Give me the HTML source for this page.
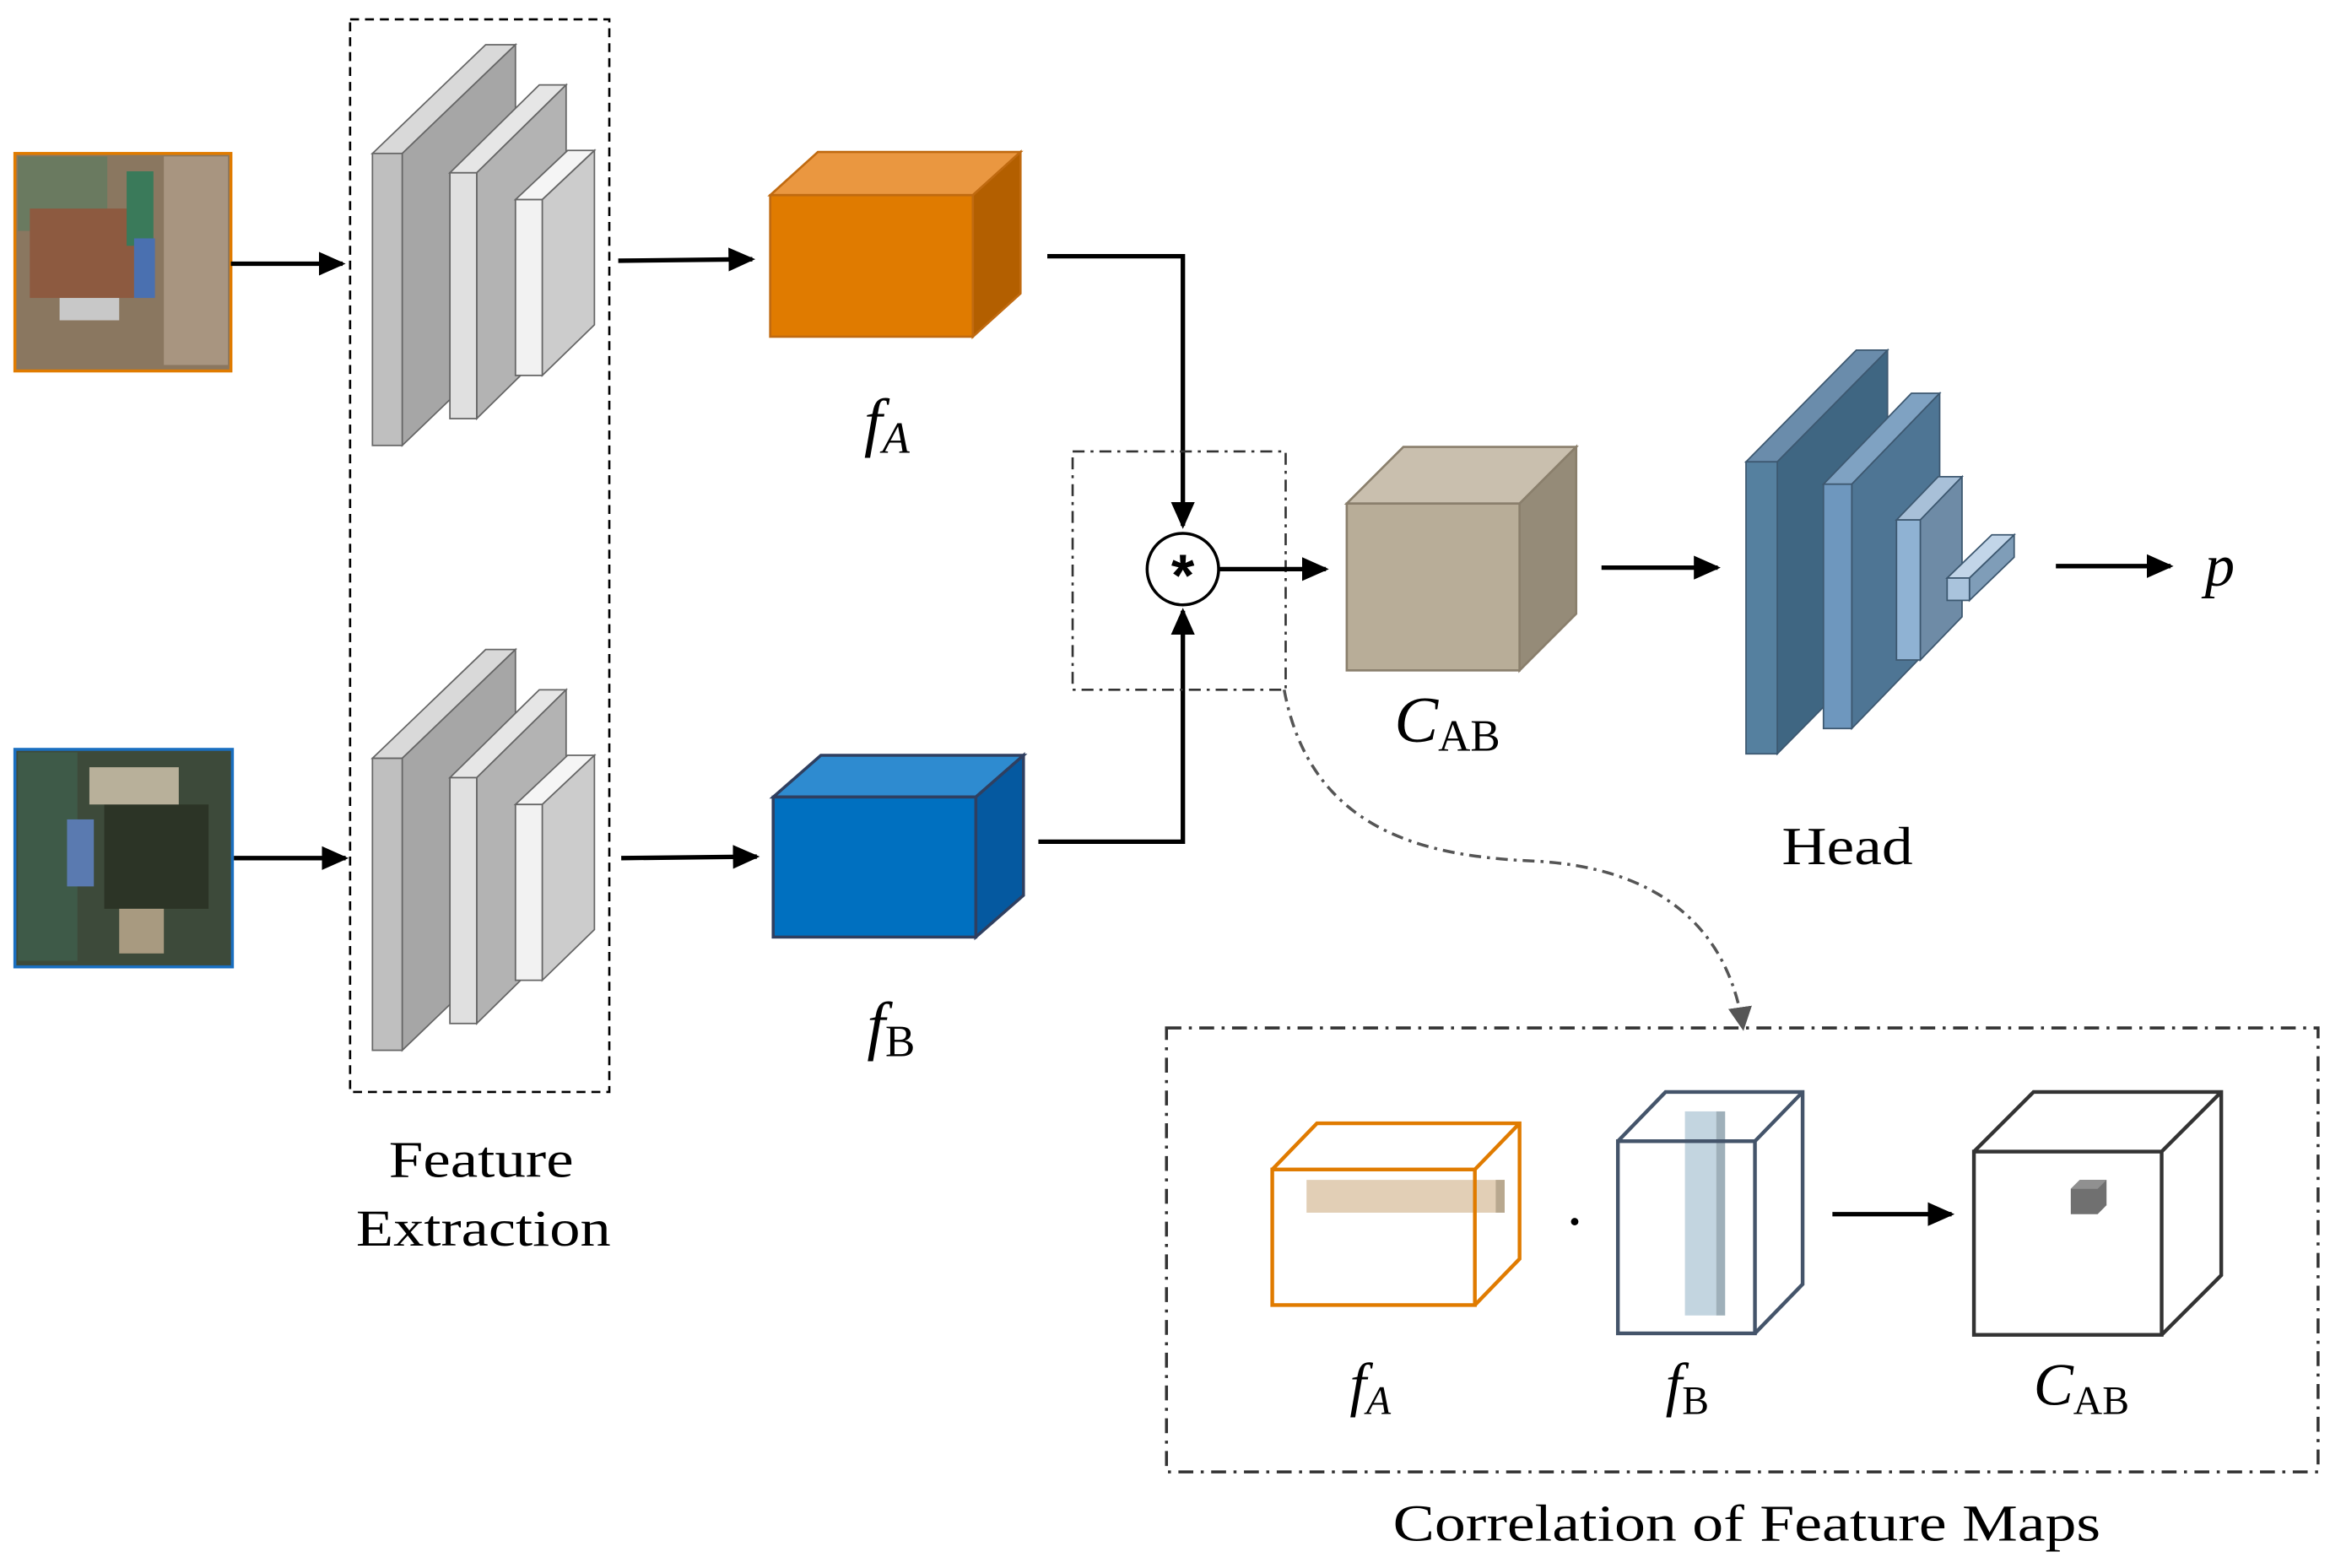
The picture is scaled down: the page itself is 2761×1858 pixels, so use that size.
<!DOCTYPE html>
<html><head><meta charset="utf-8"><style>html,body{margin:0;padding:0;background:#fff}svg{display:block}</style></head>
<body>
<svg width="2761" height="1858" viewBox="0 0 1564 1052.5" preserveAspectRatio="none" xmlns="http://www.w3.org/2000/svg" font-family="Liberation Serif, serif">
<defs>
<marker id="ah2" markerWidth="20" markerHeight="20" refX="16" refY="8" orient="auto" markerUnits="userSpaceOnUse"><path d="M0,0 L18,8 L0,16 z" fill="#000"/></marker>
<marker id="ah3" markerWidth="20" markerHeight="20" refX="14" refY="8" orient="auto" markerUnits="userSpaceOnUse"><path d="M0,0 L16,8 L0,16 z" fill="#555"/></marker>
</defs>
<rect x="10" y="103" width="145" height="146" fill="#8a7760" stroke="#E07B00" stroke-width="2"/>
<rect x="12" y="105" width="60" height="50" fill="#6a7a60"/>
<rect x="20" y="140" width="70" height="60" fill="#8d5a40"/>
<rect x="85" y="115" width="18" height="50" fill="#3a7a5a"/>
<rect x="90" y="160" width="14" height="40" fill="#4a70b0"/>
<rect x="40" y="200" width="40" height="15" fill="#c8c8c8"/>
<rect x="110" y="105" width="43" height="140" fill="#a89580"/>
<rect x="10" y="503" width="146" height="146" fill="#3d4a3a" stroke="#1a6fc0" stroke-width="2"/>
<rect x="70" y="540" width="70" height="70" fill="#2c3426"/>
<rect x="12" y="505" width="40" height="140" fill="#3e5a48"/>
<rect x="45" y="550" width="18" height="45" fill="#5a7ab0"/>
<rect x="60" y="515" width="60" height="25" fill="#b8b09a"/>
<rect x="80" y="610" width="30" height="30" fill="#a89a80"/>
<line x1="155" y1="177" x2="230" y2="177" stroke="#000" stroke-width="3" marker-end="url(#ah2)"/>
<line x1="157" y1="576" x2="232" y2="576" stroke="#000" stroke-width="3" marker-end="url(#ah2)"/>
<rect x="235" y="13" width="174" height="720" fill="none" stroke="#000" stroke-width="1.5" stroke-dasharray="6,4"/>
<g id="stk" stroke="#666" stroke-width="1">
<path d="M250,103 L326,30 L346,30 L270,103 z" fill="#d9d9d9"/>
<path d="M270,103 L346,30 L346,226 L270,299 z" fill="#a6a6a6"/>
<rect x="250" y="103" width="20" height="196" fill="#bfbfbf"/>
<path d="M302,116 L362,57 L380,57 L320,116 z" fill="#e6e6e6"/>
<path d="M320,116 L380,57 L380,222 L320,281 z" fill="#b3b3b3"/>
<rect x="302" y="116" width="18" height="165" fill="#e0e0e0"/>
<path d="M346,134 L381,101 L399,101 L364,134 z" fill="#f5f5f5"/>
<path d="M364,134 L399,101 L399,218 L364,252 z" fill="#cccccc"/>
<rect x="346" y="134" width="18" height="118" fill="#f2f2f2"/>
</g>
<use href="#stk" transform="translate(0,406)"/>
<text x="261" y="790" font-size="35" textLength="124" lengthAdjust="spacingAndGlyphs">Feature</text>
<text x="239" y="836" font-size="35" textLength="171" lengthAdjust="spacingAndGlyphs">Extraction</text>
<line x1="415" y1="175" x2="505" y2="174" stroke="#000" stroke-width="3" marker-end="url(#ah2)"/>
<line x1="417" y1="576" x2="508" y2="575" stroke="#000" stroke-width="3" marker-end="url(#ah2)"/>
<g stroke="#c06a10" stroke-width="1.5">
<path d="M517,131 L549,102 L685,102 L653,131 z" fill="#EA9740"/>
<path d="M653,131 L685,102 L685,197 L653,226 z" fill="#B35F00"/>
<rect x="517" y="131" width="136" height="95" fill="#E07B00"/>
</g>
<g stroke="#2F3F60" stroke-width="2">
<path d="M519,535 L551,507 L687,507 L655,535 z" fill="#2E8BD0"/>
<path d="M655,535 L687,507 L687,601 L655,629 z" fill="#0559A0"/>
<rect x="519" y="535" width="136" height="94" fill="#0070C0"/>
</g>
<text x="580" y="298" font-size="44" font-style="italic">f<tspan font-size="30" dy="6">A</tspan></text>
<text x="582" y="703" font-size="44" font-style="italic">f<tspan font-size="30" dy="6" font-style="normal">B</tspan></text>
<polyline points="703,172 794,172 794,353" fill="none" stroke="#000" stroke-width="3" marker-end="url(#ah2)"/>
<polyline points="697,565 794,565 794,410" fill="none" stroke="#000" stroke-width="3" marker-end="url(#ah2)"/>
<rect x="720" y="303" width="143" height="160" fill="none" stroke="#333" stroke-width="1.5" stroke-dasharray="8,4,2,4"/>
<circle cx="794" cy="382" r="24" fill="#fff" stroke="#000" stroke-width="2"/>
<text x="794" y="400" font-size="40" text-anchor="middle" font-family="Liberation Sans, sans-serif" font-weight="bold">*</text>
<line x1="818" y1="382" x2="890" y2="382" stroke="#000" stroke-width="3" marker-end="url(#ah2)"/>
<g stroke="#8a7f6c" stroke-width="1.5">
<path d="M904,338 L942,300 L1058,300 L1020,338 z" fill="#C9BFAE"/>
<path d="M1020,338 L1058,300 L1058,412 L1020,450 z" fill="#958B78"/>
<rect x="904" y="338" width="116" height="112" fill="#B8AD98"/>
</g>
<text x="936" y="498" font-size="44" font-style="italic">C<tspan font-size="30" dy="6" font-style="normal">AB</tspan></text>
<line x1="1075" y1="381" x2="1153" y2="381" stroke="#000" stroke-width="3" marker-end="url(#ah2)"/>
<g stroke="#3d5870" stroke-width="1">
<path d="M1172,310 L1246,235 L1267,235 L1193,310 z" fill="#6a8cab"/>
<path d="M1193,310 L1267,235 L1267,431 L1193,506 z" fill="#3F6682"/>
<rect x="1172" y="310" width="21" height="196" fill="#55809F"/>
<path d="M1224,325 L1283,264 L1302,264 L1243,325 z" fill="#7fa2c2"/>
<path d="M1243,325 L1302,264 L1302,428 L1243,489 z" fill="#4E7594"/>
<rect x="1224" y="325" width="19" height="164" fill="#6E97BE"/>
<path d="M1273,349 L1301,320 L1317,320 L1289,349 z" fill="#a8c0d8"/>
<path d="M1289,349 L1317,320 L1317,414 L1289,443 z" fill="#6E8BA6"/>
<rect x="1273" y="349" width="16" height="94" fill="#8FB2D3"/>
<path d="M1307,388 L1337,359 L1352,359 L1322,388 z" fill="#c2d5e8"/>
<path d="M1322,388 L1352,359 L1352,374 L1322,403 z" fill="#7f9db8"/>
<rect x="1307" y="388" width="15" height="15" fill="#a9c3dc"/>
</g>
<text x="1196" y="580" font-size="36" textLength="88" lengthAdjust="spacingAndGlyphs">Head</text>
<line x1="1380" y1="380" x2="1457" y2="380" stroke="#000" stroke-width="3" marker-end="url(#ah2)"/>
<text x="1480" y="393" font-size="40" font-style="italic">p</text>
<path d="M862,463 C880,560 960,575 1030,578 C1110,582 1160,620 1170,690" fill="none" stroke="#555" stroke-width="2" stroke-dasharray="8,4,2,4" marker-end="url(#ah3)"/>
<rect x="783" y="690" width="773" height="298" fill="none" stroke="#333" stroke-width="2" stroke-dasharray="10,5,2,5"/>
<rect x="877" y="792" width="133" height="22" fill="#E2CFB6"/>
<path d="M1010,792 L1010,814 L1004,814 L1004,792z" fill="#b8a88f"/>
<g fill="none" stroke="#E07B00" stroke-width="2.5">
<rect x="854" y="785" width="136" height="91"/>
<path d="M854,785 L884,754 L1020,754 L1020,845 L990,876 M990,785 L1020,754"/>
</g>
<circle cx="1057" cy="820" r="2.5" fill="#000"/>
<rect x="1131" y="746" width="21" height="137" fill="#C3D5E0"/>
<rect x="1152" y="746" width="6" height="137" fill="#9fb0ba"/>
<g fill="none" stroke="#44546A" stroke-width="2.5">
<rect x="1086" y="766" width="92" height="129"/>
<path d="M1086,766 L1118,733 L1210,733 L1210,862 L1178,895 M1178,766 L1210,733"/>
</g>
<line x1="1230" y1="815" x2="1310" y2="815" stroke="#000" stroke-width="3" marker-end="url(#ah2)"/>
<g fill="none" stroke="#333" stroke-width="2.5">
<rect x="1325" y="773" width="126" height="123"/>
<path d="M1325,773 L1365,733 L1491,733 L1491,856 L1451,896 M1451,773 L1491,733"/>
</g>
<path d="M1390,798 L1396,792 L1414,792 L1414,809 L1408,815 L1390,815z" fill="#707070"/>
<path d="M1390,798 L1396,792 L1414,792 L1408,798z" fill="#909090"/>
<text x="906" y="943" font-size="40" font-style="italic">f<tspan font-size="27" dy="6">A</tspan></text>
<text x="1118" y="943" font-size="40" font-style="italic">f<tspan font-size="27" dy="6" font-style="normal">B</tspan></text>
<text x="1365" y="943" font-size="40" font-style="italic">C<tspan font-size="27" dy="6" font-style="normal">AB</tspan></text>
<text x="935" y="1034" font-size="35" textLength="475" lengthAdjust="spacingAndGlyphs">Correlation of Feature Maps</text>
</svg>
</body></html>
